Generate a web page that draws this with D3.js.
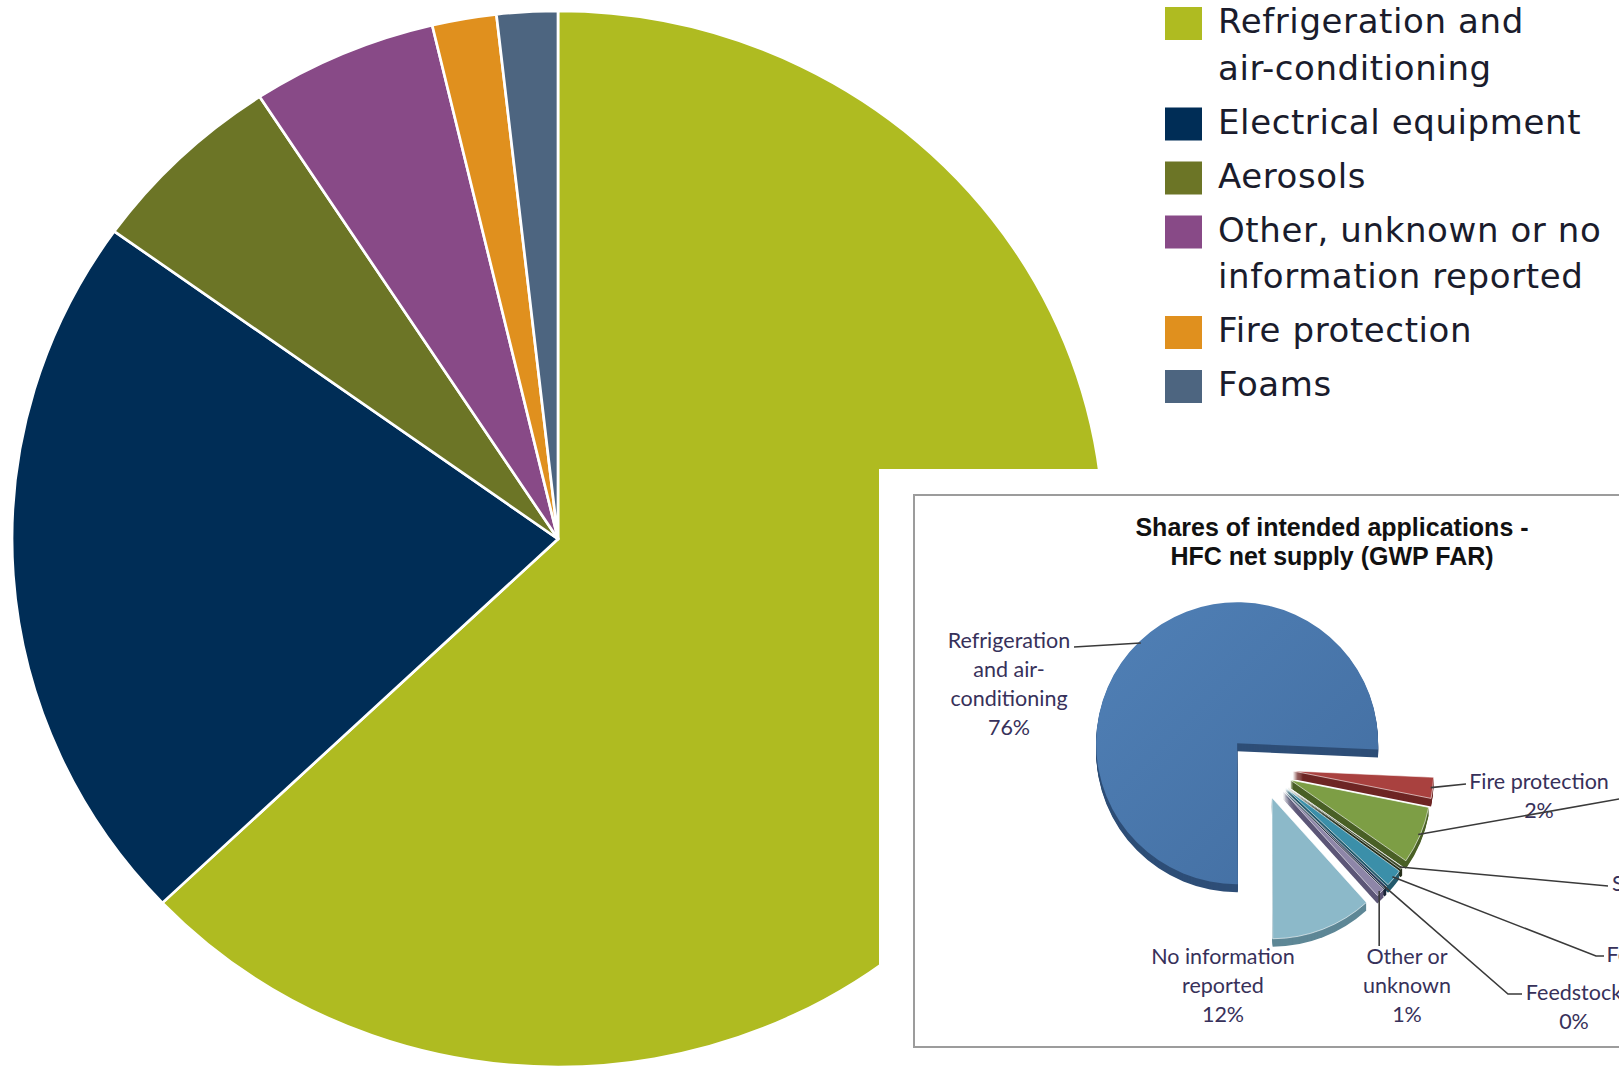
<!DOCTYPE html>
<html>
<head>
<meta charset="utf-8">
<script src="https://cdn.jsdelivr.net/npm/d3@7"></script>
<style>
  html, body { margin: 0; padding: 0; background: #ffffff; overflow: hidden; }
  svg { display: block; }
</style>
</head>
<body>
<script>
// ---- Main chart: shares of F-gas use by application ----
const mainCategories = [
  "Refrigeration and air-conditioning",
  "Electrical equipment",
  "Aerosols",
  "Other, unknown or no information reported",
  "Fire protection",
  "Foams"
];
const mainShares = [62.9, 22.0, 5.9, 5.5, 1.9, 1.8];
const mainColors = ["#afbb21", "#002d56", "#6c7526", "#884a87", "#e0901e", "#4d6580"];
const legendLines = [
  ["Refrigeration and", "air-conditioning"],
  ["Electrical equipment"],
  ["Aerosols"],
  ["Other, unknown or no", "information reported"],
  ["Fire protection"],
  ["Foams"]
];

// ---- Inset: HFC net supply by intended application ----
const insetTitle = ["Shares of intended applications -", "HFC net supply (GWP FAR)"];
const insetCategories = [
  "Refrigeration and air-conditioning",
  "Fire protection",
  "Aerosols",
  "Solvents",
  "Foams",
  "Feedstock",
  "Other or unknown",
  "No information reported"
];
const insetShares = [75.8, 2.4, 6.6, 0.3, 2.0, 0.3, 1.0, 11.6];
const insetLabelLines = [
  ["Refrigeration", "and air-", "conditioning"],
  ["Fire protection"],
  null,
  ["Solvents"],
  ["Foams"],
  ["Feedstock"],
  ["Other or", "unknown"],
  ["No information", "reported"]
];
const insetTop = ["#4a77ab", "#a9413f", "#7d9e45", "#3d4a2a", "#3b8fa9", "#2c3e5c", "#8e86a8", "#8cb9c9"];
const insetSide = ["#2e4e77", "#6e2624", "#4a6026", "#262f1a", "#22596b", "#1b2638", "#5c5677", "#5e8796"];

const W = 1619, H = 1067;
const svg = d3.select("body").append("svg").attr("width", W).attr("height", H);

// ---------- main pie ----------
const mainR = 528;
const mainG = svg.append("g").attr("transform", "translate(558,539) scale(1.034,1)");
const mainPie = d3.pie().sort(null).value(d => d)(mainShares);
const mainArc = d3.arc().innerRadius(0).outerRadius(mainR);
mainG.selectAll("path").data(mainPie).join("path")
  .attr("d", mainArc)
  .attr("fill", (d, i) => mainColors[i])
  .attr("stroke", "#ffffff")
  .attr("stroke-width", 2.6)
  .attr("stroke-linejoin", "round");

// ---------- legend ----------
const legend = svg.append("g").attr("transform", "translate(1165,0)");
let ly = 7;
const lineStep = 46.5;
legendLines.forEach((lines, i) => {
  legend.append("rect")
    .attr("x", 0).attr("y", ly).attr("width", 37).attr("height", 33)
    .attr("fill", mainColors[i]);
  const t = legend.append("text")
    .attr("font-family", "DejaVu Sans, Verdana, sans-serif")
    .attr("font-size", 34)
    .attr("letter-spacing", 0.6)
    .attr("fill", "#1a1c2c");
  lines.forEach((s, k) => {
    t.append("tspan").attr("x", 53).attr("y", ly + 26 + k * lineStep).text(s);
  });
  ly += lines.length * lineStep + 7.5;
});

// ---------- inset panel ----------
svg.append("rect").attr("x", 879).attr("y", 469).attr("width", W - 879).attr("height", H - 469)
  .attr("fill", "#ffffff");
svg.append("rect").attr("x", 914).attr("y", 495).attr("width", W - 914 + 10).attr("height", 552)
  .attr("fill", "#ffffff").attr("stroke", "#9c9c9c").attr("stroke-width", 2);

const title = svg.append("text")
  .attr("font-family", "Liberation Sans, Arial, sans-serif")
  .attr("font-weight", "bold").attr("font-size", 25)
  .attr("text-anchor", "middle").attr("fill", "#111111");
insetTitle.forEach((s, k) => {
  title.append("tspan").attr("x", 1332).attr("y", 536 + k * 29).text(s);
});

const insetC = [1260, 767];
const insetR = 141;
const explode = 33;
const depth = 8;
const deg = Math.PI / 180;
const a0 = -180.3 * deg;
const insetPie = d3.pie().sort(null).value(d => d).startAngle(a0).endAngle(a0 + 2 * Math.PI)(insetShares);
const insetArc = d3.arc().innerRadius(0).outerRadius(insetR);

const defs = svg.append("defs");
const grad = defs.append("linearGradient").attr("id", "blueFace")
  .attr("x1", "0").attr("y1", "0").attr("x2", "1").attr("y2", "1");
grad.append("stop").attr("offset", "0%").attr("stop-color", "#5080b6");
grad.append("stop").attr("offset", "100%").attr("stop-color", "#426da0");

function apexOf(d) {
  const m = (d.startAngle + d.endAngle) / 2;
  return [insetC[0] + explode * Math.sin(m), insetC[1] - explode * Math.cos(m)];
}
function outerPoint(d, r) {
  const m = (d.startAngle + d.endAngle) / 2;
  const p = apexOf(d);
  return [p[0] + r * Math.sin(m), p[1] - r * Math.cos(m)];
}

const insetG = svg.append("g");
// side walls
insetPie.forEach((d, i) => {
  const p = apexOf(d);
  for (let k = depth; k >= 1; k--) {
    insetG.append("path")
      .attr("d", insetArc(d))
      .attr("transform", `translate(${p[0]},${p[1] + k})`)
      .attr("fill", insetSide[i]);
  }
});
// top faces
insetPie.forEach((d, i) => {
  const p = apexOf(d);
  insetG.append("path")
    .attr("d", insetArc(d))
    .attr("transform", `translate(${p[0]},${p[1]})`)
    .attr("fill", i === 0 ? "url(#blueFace)" : insetTop[i])
    .attr("stroke", "#ffffff").attr("stroke-width", i === 0 ? 0 : 0.6);
});

// label layout: text centre x, first baseline y, leader path end points
const insetLabelLayout = [
  { cx: 1009, by: 648, path: [[1074, 647]] },
  { cx: 1539, by: 789, path: [[1466, 784]] },
  { cx: null, by: null, path: [[1625, 798]] },
  { cx: 1652, by: 891, path: [[1608, 886]] },
  { cx: 1637, by: 962, path: [[1596, 956], [1604, 956]] },
  { cx: 1574, by: 1000, path: [[1508, 994], [1522, 994]] },
  { cx: 1407, by: 964, path: "down" },
  { cx: 1223, by: 964, path: null }
];

const lineH = 29;
insetPie.forEach((d, i) => {
  const L = insetLabelLayout[i];
  if (L.path) {
    const start = outerPoint(d, insetR - 2);
    let pts = [start];
    if (L.path === "down") pts.push([start[0], 946]);
    else pts = pts.concat(L.path);
    svg.append("path")
      .attr("d", d3.line()(pts))
      .attr("fill", "none").attr("stroke", "#3a3a3a").attr("stroke-width", 1.6);
  }
  if (!insetLabelLines[i]) return;
  const lines = insetLabelLines[i].concat([Math.round(d.data) + "%"]);
  const t = svg.append("text")
    .attr("font-family", "Lato, Open Sans, sans-serif")
    .attr("font-size", 21.5)
    .attr("text-anchor", "middle")
    .attr("fill", "#37315a");
  lines.forEach((s, k) => {
    t.append("tspan").attr("x", L.cx).attr("y", L.by + k * lineH).text(s);
  });
});
</script>
</body>
</html>
